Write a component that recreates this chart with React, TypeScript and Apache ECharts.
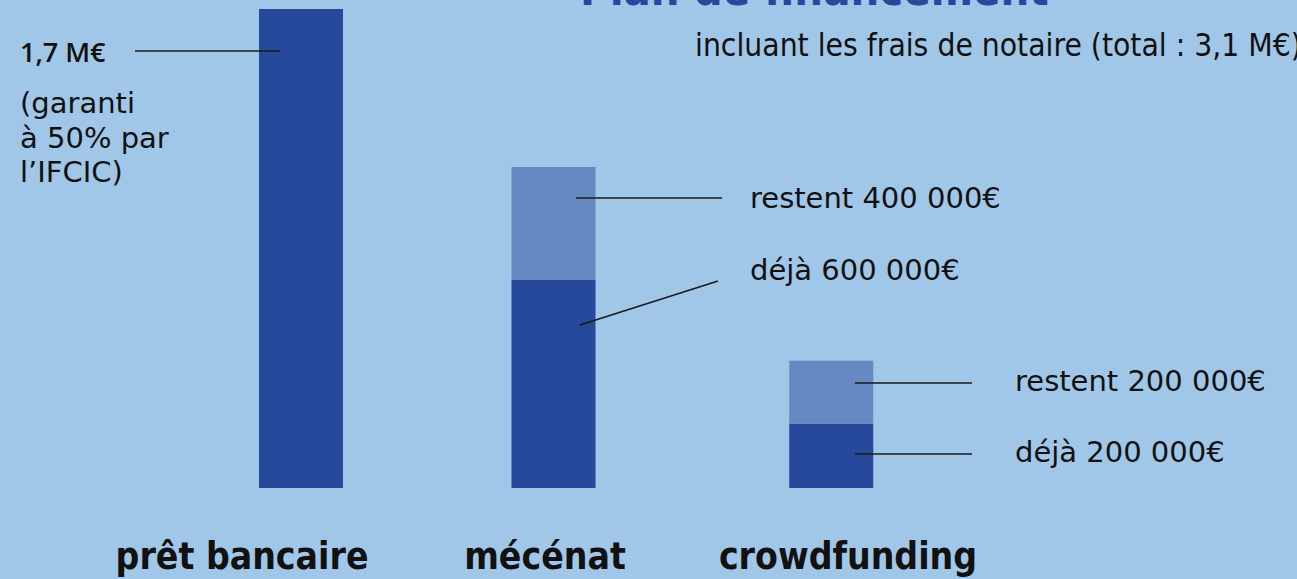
import React, { useEffect, useRef } from "react";
import * as echarts from "echarts";

// Data (in thousands of euros, bar heights as drawn in the picture)
const categories = ["prêt bancaire", "mécénat", "crowdfunding"];
const barSlots = [0, 10, 21];
const slotCount = 22;
const secured = [1700, 738, 228];
const remaining = [0, 401, 224];

const titleText = "Plan de financement";
const subtitleText = "incluant les frais de notaire (total : 3,1 M€)";
const bankAmount = "1,7 M€";
const bankNote = ["(garanti", "à 50% par", "l’IFCIC)"];
const mecenatLabels = ["restent 400 000€", "déjà 600 000€"];
const crowdLabels = ["restent 200 000€", "déjà 200 000€"];

const BG = "#a1c7e8";
const DARK = "#27499b";
const LIGHT = "#6689c1";
const INK = "#111111";
const BODY_FONT = "'DejaVu Sans', sans-serif";
const COND_FONT = "'Liberation Sans Narrow', 'DejaVu Sans Condensed', 'Roboto', sans-serif";

export default function App() {
  const ref = useRef<HTMLDivElement>(null);
  useEffect(() => {
    if (!ref.current) return;
    const chart = echarts.init(ref.current, null, { renderer: "svg" });
    const slots = Array.from({ length: slotCount }, (_, i) => String(i));
    const slotData = (vals: number[]) =>
      slots.map((_, i) => {
        const k = barSlots.indexOf(i);
        return k >= 0 ? vals[k] : null;
      });
    const line = (x1: number, y1: number, x2: number, y2: number) => ({
      type: "line",
      shape: { x1, y1, x2, y2 },
      style: { stroke: "#1a1a1a", lineWidth: 1.5 },
      z: 10,
    });
    const txt = (x: number, y: number, text: string, size = 29, weight: any = "normal", font = BODY_FONT) => ({
      type: "text",
      x,
      y,
      style: {
        text,
        fill: INK,
        font: `${weight} ${size}px ${font}`,
        textVerticalAlign: "middle",
        textAlign: "left",
      },
      z: 10,
    });
    chart.setOption({
      animation: false,
      backgroundColor: BG,
      grid: [
        { left: 90.5, width: 909, top: 9, bottom: 91 },
        { left: 288.375, width: 555.5, top: 9, bottom: 91 },
      ],
      xAxis: [
        {
          type: "category",
          gridIndex: 0,
          data: categories,
          axisLine: { show: false },
          axisTick: { show: false },
          axisLabel: {
            interval: 0,
            margin: 50,
            fontSize: 37,
            fontWeight: "bold",
            color: INK,
            fontFamily: COND_FONT,
          },
        },
        {
          type: "category",
          gridIndex: 1,
          data: slots,
          show: false,
        },
      ],
      yAxis: [
        { type: "value", gridIndex: 0, min: 0, max: 1700, show: false },
        { type: "value", gridIndex: 1, min: 0, max: 1700, show: false },
      ],
      series: [
        {
          type: "bar",
          name: "déjà",
          xAxisIndex: 1,
          yAxisIndex: 1,
          stack: "total",
          barWidth: 84,
          clip: false,
          itemStyle: { color: DARK },
          data: slotData(secured),
        },
        {
          type: "bar",
          name: "restent",
          xAxisIndex: 1,
          yAxisIndex: 1,
          stack: "total",
          barWidth: 84,
          clip: false,
          itemStyle: { color: LIGHT },
          data: slotData(remaining),
        },
      ],
      graphic: [
        {
          type: "text",
          x: 580,
          y: 12,
          style: {
            text: titleText,
            fill: DARK,
            font: `bold 45px ${COND_FONT}`,
            textVerticalAlign: "bottom",
            textAlign: "left",
          },
        },
        txt(695, 45, subtitleText, 31.5, "normal", COND_FONT),
        txt(20, 51, bankAmount, 27, 600, "'Open Sans', sans-serif"),
        line(135, 51, 280, 51),
        txt(20, 103, bankNote[0]),
        txt(20, 138, bankNote[1]),
        txt(20, 172, bankNote[2]),
        line(576, 198, 722, 198),
        txt(750, 198, mecenatLabels[0]),
        line(580, 325, 718, 281),
        txt(750, 270, mecenatLabels[1]),
        line(855, 383, 972, 383),
        txt(1015, 381, crowdLabels[0]),
        line(855, 454, 972, 454),
        txt(1015, 452, crowdLabels[1]),
      ],
    });
    return () => chart.dispose();
  }, []);
  return (
    <div
      ref={ref}
      style={{ position: "fixed", left: 0, top: 0, width: 1297, height: 579, background: BG }}
    />
  );
}
